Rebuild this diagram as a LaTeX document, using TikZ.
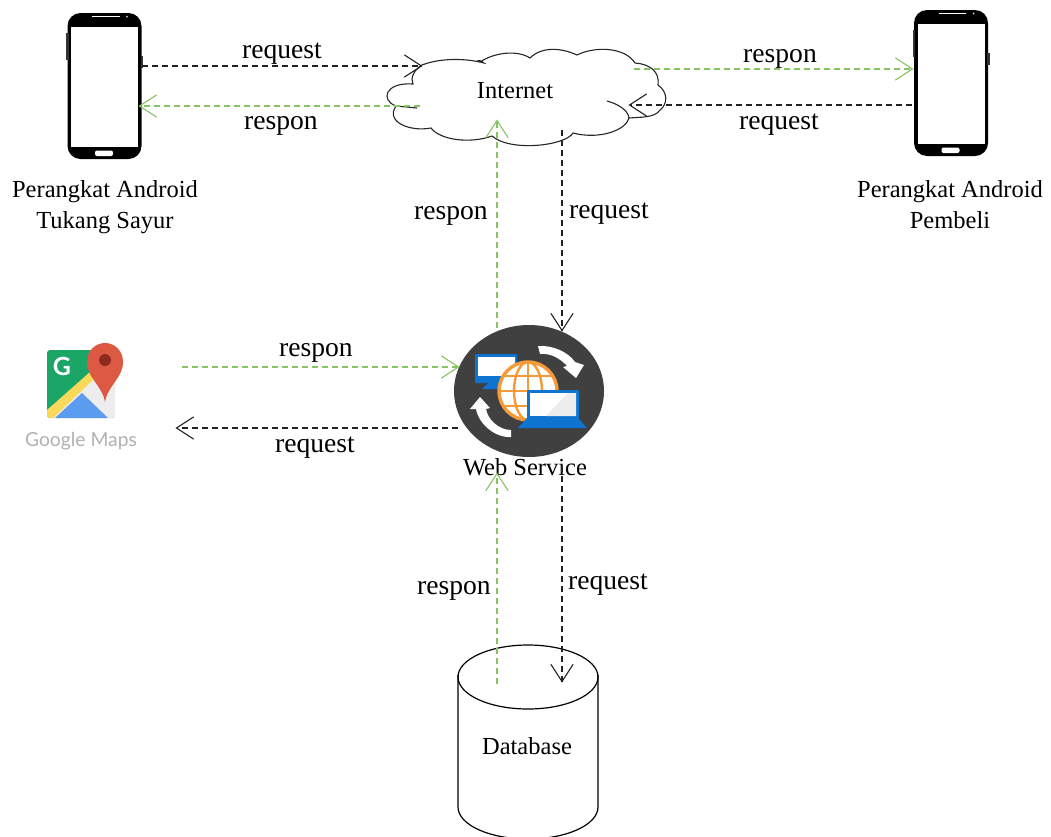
\documentclass[tikz,border=0pt]{standalone}
\usepackage{fontspec}
\setmainfont{Liberation Serif}
\newfontfamily\mapsfont{Lato}
\usetikzlibrary{arrows.meta}
\definecolor{respgreen}{HTML}{86C463}
\definecolor{reqblack}{HTML}{222222}
\definecolor{wsdark}{HTML}{404040}
\definecolor{wsblue}{HTML}{0F74D0}
\definecolor{wsorange}{HTML}{F59A36}
\definecolor{mapgreen}{HTML}{1BA566}
\definecolor{mapyellow}{HTML}{F8D95A}
\definecolor{mapblue}{HTML}{5B9BF0}
\definecolor{mapgrey}{HTML}{EDEDED}
\definecolor{mappin}{HTML}{DC5A43}
\definecolor{mapdot}{HTML}{8E2A1E}
\pgfarrowsdeclare{openvee}{openvee}
  {\pgfarrowsleftextend{-17pt}\pgfarrowsrightextend{0.5pt}}
  {\pgfsetdash{}{0pt}\pgfsetroundcap\pgfsetmiterjoin
   \pgfpathmoveto{\pgfpoint{-17pt}{11pt}}
   \pgfpathlineto{\pgfpointorigin}
   \pgfpathlineto{\pgfpoint{-17pt}{-11pt}}
   \pgfusepathqstroke}
\tikzset{
  lbl/.style={font=\fontsize{27.6}{27.6}\selectfont,inner sep=0pt,anchor=center},
  nodetxt/.style={font=\fontsize{24.5}{31}\selectfont,inner sep=0pt,align=center},
  resp/.style={draw=respgreen,line width=1.1pt,dash pattern=on 6pt off 4pt,-openvee},
  reqt/.style={draw=reqblack,line width=1.1pt,dash pattern=on 6pt off 4pt,-openvee},
  phone/.pic={
    \fill[black,rounded corners=13pt] (0,0) rectangle (74,146);
    \fill[white] (3.5,14) rectangle (70.5,134);
    \fill[black!80] (-1.5,20) rectangle (1,47);
    \fill[black!80] (73,43) rectangle (75.5,55);
    \fill[white,rounded corners=2pt] (27.5,137.5) rectangle (45.5,143);
    \fill[white] (24.5,3) rectangle (52,4);
    \fill[white!80!black] (59.5,3.5) circle (1);
  },
}
\begin{document}
\begin{tikzpicture}[x=1pt,y=-1pt]
\useasboundingbox (0,0) rectangle (1051,836);
\fill[white] (0,0) rectangle (1051,836);

% phones
\pic at (67.5,13) {phone};
\pic at (914,10) {phone};
\coordinate (phL1) at (142,66);
\coordinate (phL2) at (139,106);
\coordinate (phR1) at (913,69);
\coordinate (phR2) at (912,105);

% cloud
\draw[fill=white,line width=1.1pt,draw=black!85]
  (422,65) .. controls (440,58) and (465,58) .. (484,63)
  .. controls (478,58) and (475,62) .. (480,62)
  .. controls (495,52) and (518,50) .. (530,58)
  .. controls (542,46) and (562,48) .. (577,55)
  .. controls (595,46) and (625,47) .. (635,63)
  .. controls (650,64) and (660,72) .. (658,85)
  .. controls (668,92) and (668,104) .. (660,110)
  .. controls (655,118) and (640,117) .. (629,118)
  .. controls (626,130) and (600,140) .. (573,133)
  .. controls (565,146) and (510,152) .. (492,136)
  .. controls (470,144) and (440,140) .. (431,128)
  .. controls (410,132) and (385,122) .. (396,106)
  .. controls (380,100) and (385,82) .. (413,84)
  .. controls (410,78) and (414,70) .. (422,65) -- cycle;
\draw[line width=1.1pt,draw=black!85] (629,118) .. controls (628,110) and (618,104) .. (607,101);
\draw[line width=1.1pt,draw=black!85] (396,106) -- (417,108);
\node[nodetxt] (internet) at (515,91) {Internet};
\coordinate (clL1) at (422,66);
\coordinate (clL2) at (420,106);
\coordinate (clR1) at (634,69);
\coordinate (clR2) at (629,105);
\coordinate (clB1) at (497,120);
\coordinate (clB2) at (562,130);

% web service
\fill[wsdark] (529,391) ellipse [x radius=75,y radius=66];
\coordinate (wsT1) at (497,328);
\coordinate (wsT2) at (562,331);
\coordinate (wsL1) at (459,367);
\coordinate (wsL2) at (458,428);
\coordinate (wsB1) at (497,473);
\coordinate (wsB2) at (562,466);
% monitor
\fill[wsblue,rounded corners=1pt] (475,354) rectangle (517,383);
\fill[white] (477.5,356.5) rectangle (514.5,376);
\fill[mapgrey] (502,376) -- (514.5,362) -- (514.5,376) -- cycle;
\fill[wsblue] (488,383) -- (505,383) -- (508,389) -- (482,389) -- cycle;
% globe
\fill[white] (528,391) circle (30);
\draw[wsorange,line width=3.4pt] (528,391) circle (29);
\draw[wsorange,line width=2.4pt] (528,391) ellipse [x radius=14,y radius=29];
\draw[wsorange,line width=2.4pt] (528,362) -- (528,420);
\draw[wsorange,line width=2.4pt] (499,391) -- (557,391);
\draw[wsorange,line width=2.4pt] (503,376) -- (553,376);
\draw[wsorange,line width=2.4pt] (503,406) -- (553,406);
% laptop
\fill[wsblue,rounded corners=1pt] (527,390) rectangle (579,419);
\fill[white] (530,393) rectangle (576,416);
\fill[mapgrey] (546,416) -- (568,393) -- (576,393) -- (576,416) -- cycle;
\fill[wsblue] (527,418) -- (578,418) -- (587,428) -- (518,428) -- cycle;
% curved arrows
\fill[white] (538,346) .. controls (553,345) and (568,352) .. (575,362)
  -- (584,365) -- (576,378) -- (563,367) -- (567,366)
  .. controls (560,358) and (550,353) .. (540,354) -- cycle;
\fill[white] (511,430) .. controls (499,430) and (488,420) .. (486,409)
  -- (490,408) -- (480,397) -- (470,409) -- (476,409)
  .. controls (479,425) and (496,438) .. (511,437) -- cycle;
\node[nodetxt] (ws) at (525,467) {Web Service};

% google maps
\begin{scope}
\clip[rounded corners=3pt] (47,350) rectangle (115,418);
\fill[mapgreen] (47,350) rectangle (115,418);
\fill[mapgrey] (90,372) -- (115,350) -- (115,418) -- (50,418) -- cycle;
\fill[mapblue] (55,418) -- (82,393) -- (108,418) -- cycle;
\fill[mapyellow] (47,410) -- (90,372) -- (95,378) -- (53,418) -- (47,418) -- cycle;
\end{scope}
\fill[mappin] (105,402) .. controls (102,385) and (87,378) .. (87,362) .. controls (87,350) and (96,343) .. (105,343) .. controls (114,343) and (123,350) .. (123,362) .. controls (123,378) and (108,385) .. (105,402) -- cycle;
\fill[mapdot] (105,360) circle (6);
\node[font=\mapsfont\bfseries\fontsize{25}{25}\selectfont,text=white,inner sep=0pt] (gicon) at (62,366) {G};
\node[font=\mapsfont\fontsize{19.3}{19.3}\selectfont,text=black!30,inner sep=0pt] (gmaps) at (81,441) {Google Maps};
\coordinate (gmR1) at (182,367);
\coordinate (gmR2) at (176,428);

% database
\draw[line width=1.2pt,fill=white] (458,675) -- (458,807) arc [start angle=180,end angle=0,x radius=70,y radius=32] -- (598,675);
\draw[line width=1.2pt] (528,677) ellipse [x radius=70,y radius=32];
\node[nodetxt] (db) at (527,746) {Database};
\coordinate (dbT1) at (497,684);
\coordinate (dbT2) at (562,682);

% connectors
\draw[reqt] (phL1) -- (clL1);
\draw[resp] (clL2) -- (phL2);
\draw[resp] (clR1) -- (phR1);
\draw[reqt] (phR2) -- (clR2);
\draw[resp] (wsT1) -- (clB1);
\draw[reqt] (clB2) -- (wsT2);
\draw[resp] (gmR1) -- (wsL1);
\draw[reqt] (wsL2) -- (gmR2);
\draw[resp] (dbT1) -- (wsB1);
\draw[reqt] (wsB2) -- (dbT2);

% labels
\node[lbl] (l1) at (282,54) {request};
\node[lbl] (l2) at (281,126) {respon};
\node[lbl] (l3) at (780,59) {respon};
\node[lbl] (l4) at (779,125) {request};
\node[lbl] (l5) at (451,216) {respon};
\node[lbl] (l6) at (609,214) {request};
\node[lbl] (l7) at (316,353) {respon};
\node[lbl] (l8) at (315,448) {request};
\node[lbl] (l9) at (454,591) {respon};
\node[lbl] (l10) at (608,585) {request};
\node[nodetxt] (pl) at (105,207) {Perangkat Android\\Tukang Sayur};
\node[nodetxt] (pr) at (950,205) {Perangkat Android\\Pembeli};
\end{tikzpicture}
\end{document}
